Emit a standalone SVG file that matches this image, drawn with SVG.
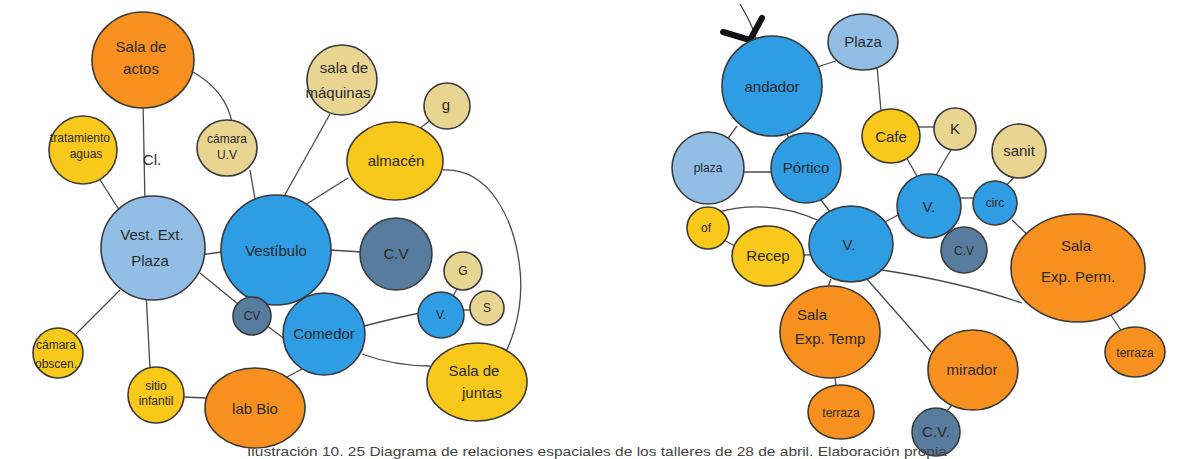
<svg xmlns="http://www.w3.org/2000/svg" width="1182" height="459" viewBox="0 0 1182 459">
<style>
.n{stroke:#3a3a3a;stroke-width:1.6}
.or{fill:#F7901E}
.ye{fill:#F8C81A}
.py{fill:#E9D592}
.lb{fill:#92BEE6}
.bl{fill:#2E9DE3}
.dk{fill:#577C9D}
.t{font-family:"Liberation Sans","DejaVu Sans",sans-serif;fill:#2a2a2a;text-anchor:middle;font-size:15px}
.s{font-size:12px}
.c path,.c line{stroke:#4a4a4a;stroke-width:1.3;fill:none}
</style>
<rect width="1182" height="459" fill="#ffffff"/>
<g class="c" id="connectors">
<line x1="143" y1="100" x2="145" y2="205"/>
<path d="M193 72 Q225 90 232 122"/>
<line x1="97" y1="175" x2="123" y2="216"/>
<line x1="250" y1="170" x2="256" y2="205"/>
<line x1="330" y1="114" x2="282" y2="200"/>
<line x1="348" y1="178" x2="305" y2="205"/>
<line x1="433" y1="118" x2="414" y2="133"/>
<path d="M443 170 C490 168 515 220 520 270 C525 320 505 355 496 372"/>
<line x1="178" y1="258" x2="222" y2="252"/>
<line x1="330" y1="250" x2="362" y2="252"/>
<line x1="200" y1="273" x2="238" y2="304"/>
<line x1="266" y1="325" x2="286" y2="340"/>
<line x1="296" y1="292" x2="317" y2="317"/>
<path d="M364 326 Q395 318 420 313"/>
<line x1="462" y1="310" x2="471" y2="310"/>
<line x1="453" y1="296" x2="457" y2="289"/>
<path d="M362 354 Q395 366 430 366"/>
<line x1="302" y1="369" x2="285" y2="378"/>
<line x1="183" y1="397" x2="207" y2="398"/>
<line x1="146" y1="292" x2="150" y2="368"/>
<line x1="120" y1="290" x2="76" y2="334"/>
<line x1="814" y1="68" x2="845" y2="58"/>
<line x1="877" y1="66" x2="881" y2="111"/>
<line x1="737" y1="126" x2="721" y2="148"/>
<line x1="784" y1="128" x2="790" y2="140"/>
<line x1="736" y1="172" x2="775" y2="172"/>
<line x1="820" y1="199" x2="832" y2="214"/>
<line x1="915" y1="127" x2="935" y2="127"/>
<line x1="905" y1="155" x2="918" y2="178"/>
<line x1="952" y1="148" x2="935" y2="177"/>
<line x1="877" y1="226" x2="904" y2="212"/>
<line x1="942" y1="228" x2="954" y2="236"/>
<line x1="955" y1="198" x2="985" y2="198"/>
<line x1="1015" y1="176" x2="1004" y2="188"/>
<line x1="1012" y1="220" x2="1030" y2="237"/>
<path d="M718 212 Q770 198 822 222"/>
<line x1="724" y1="240" x2="745" y2="252"/>
<line x1="800" y1="255" x2="815" y2="255"/>
<line x1="831" y1="279" x2="826" y2="292"/>
<line x1="834" y1="368" x2="837" y2="396"/>
<line x1="866" y1="278" x2="931" y2="352"/>
<path d="M882 270 Q960 282 1022 303"/>
<line x1="1105" y1="306" x2="1124" y2="335"/>
<line x1="952" y1="405" x2="946" y2="412"/>
</g>
<g id="sala-actos"><ellipse class="n or" cx="143" cy="60" rx="51" ry="48"/><text class="t" x="141" y="52">Sala de</text><text class="t" x="141" y="74">actos</text></g>
<g id="tratamiento"><circle class="n ye" cx="83" cy="150" r="34"/><text class="t s" x="80" y="142">tratamiento</text><text class="t s" x="86" y="158">aguas</text></g>
<g id="cl"><text class="t" x="152" y="165" fill="#555">Cl.</text></g>
<g id="camara-uv"><ellipse class="n py" cx="227" cy="148" rx="30" ry="28"/><text class="t s" x="227" y="143">cámara</text><text class="t s" x="227" y="159">U.V</text></g>
<g id="sala-maquinas"><circle class="n py" cx="342" cy="80" r="35"/><text class="t" x="344" y="73">sala de</text><text class="t" x="338" y="98">máquinas</text></g>
<g id="g-node"><circle class="n py" cx="447" cy="106" r="23"/><text class="t" x="446" y="110">g</text></g>
<g id="almacen"><ellipse class="n ye" cx="395" cy="161" rx="48" ry="39"/><text class="t" x="396" y="166">almacén</text></g>
<g id="vest-ext"><circle class="n lb" cx="153" cy="248" r="52"/><text class="t" x="152" y="240">Vest. Ext.</text><text class="t" x="150" y="266">Plaza</text></g>
<g id="vestibulo"><circle class="n bl" cx="276" cy="250" r="55"/><text class="t" x="276" y="256" font-size="17">Vestíbulo</text></g>
<g id="cv1"><circle class="n dk" cx="396" cy="254" r="36"/><text class="t" x="396" y="259">C.V</text></g>
<g id="cv2"><circle class="n dk" cx="252" cy="316" r="19"/><text class="t s" x="252" y="320">CV</text></g>
<g id="comedor"><circle class="n bl" cx="324" cy="334" r="41"/><text class="t" x="324" y="339">Comedor</text></g>
<g id="v-left"><circle class="n bl" cx="441" cy="315" r="23"/><text class="t s" x="441" y="319">V.</text></g>
<g id="g-big"><circle class="n py" cx="463" cy="271" r="19"/><text class="t s" x="463" y="275">G</text></g>
<g id="s-node"><circle class="n py" cx="487" cy="308" r="17"/><text class="t s" x="487" y="312">S</text></g>
<g id="sala-juntas"><ellipse class="n ye" cx="477" cy="382" rx="50" ry="39"/><text class="t" x="474" y="376">Sala de</text><text class="t" x="482" y="398">juntas</text></g>
<g id="lab-bio"><ellipse class="n or" cx="255" cy="408" rx="50" ry="40"/><text class="t" x="255" y="414" font-size="16">lab Bio</text></g>
<g id="sitio"><circle class="n ye" cx="156" cy="395" r="28"/><text class="t s" x="156" y="390">sitio</text><text class="t s" x="156" y="405">infantil</text></g>
<g id="camara-obs"><circle class="n ye" cx="58" cy="353" r="25"/><text class="t s" x="56" y="349">cámara</text><text class="t s" x="56" y="368">obscen.</text></g>
<g id="andador"><path d="M740 4 C746 14 752 24 756 38" stroke="#333" stroke-width="1.2" fill="none"/><path d="M723 32 L750 40 L762 18" stroke="#111" stroke-width="6" fill="none" stroke-linecap="round" stroke-linejoin="round"/><circle class="n bl" cx="772" cy="86" r="50"/><text class="t" x="772" y="92" font-size="18">andador</text></g>
<g id="plaza-top"><ellipse class="n lb" cx="863" cy="42" rx="35" ry="28"/><text class="t" x="863" y="47">Plaza</text></g>
<g id="plaza-left"><circle class="n lb" cx="708" cy="168" r="36"/><text class="t s" x="708" y="172">plaza</text></g>
<g id="portico"><circle class="n bl" cx="806" cy="168" r="35"/><text class="t" x="806" y="173">Pórtico</text></g>
<g id="cafe"><ellipse class="n ye" cx="891" cy="136" rx="29" ry="27"/><text class="t" x="891" y="142" font-size="17">Cafe</text></g>
<g id="k-node"><circle class="n py" cx="955" cy="129" r="21"/><text class="t" x="955" y="134">K</text></g>
<g id="v-right"><circle class="n bl" cx="929" cy="206" r="32"/><text class="t" x="929" y="212" font-size="17">V.</text></g>
<g id="cv-right"><circle class="n dk" cx="964" cy="250" r="23"/><text class="t s" x="964" y="255">C.V</text></g>
<g id="sanit"><circle class="n py" cx="1019" cy="151" r="27"/><text class="t" x="1019" y="156">sanit</text></g>
<g id="circ"><circle class="n bl" cx="995" cy="203" r="22"/><text class="t s" x="995" y="207">circ</text></g>
<g id="sala-perm"><ellipse class="n or" cx="1078" cy="268" rx="67" ry="54"/><text class="t" x="1076" y="251" font-size="16">Sala</text><text class="t" x="1078" y="282" font-size="16">Exp. Perm.</text></g>
<g id="terraza-r"><ellipse class="n or" cx="1135" cy="352" rx="30" ry="25"/><text class="t s" x="1135" y="357">terraza</text></g>
<g id="mirador"><ellipse class="n or" cx="973" cy="370" rx="45" ry="40"/><text class="t" x="972" y="375">mirador</text></g>
<g id="cv-bottom"><circle class="n dk" cx="936" cy="432" r="24"/><text class="t" x="936" y="437">C.V.</text></g>
<g id="v-center"><ellipse class="n bl" cx="851" cy="244" rx="42" ry="38"/><text class="t" x="849" y="250" font-size="17">V.</text></g>
<g id="of"><circle class="n ye" cx="708" cy="228" r="21"/><text class="t s" x="706" y="232">of</text></g>
<g id="recep"><ellipse class="n ye" cx="768" cy="256" rx="36" ry="30"/><text class="t" x="768" y="261">Recep</text></g>
<g id="sala-temp"><ellipse class="n or" cx="830" cy="332" rx="50" ry="46"/><text class="t" x="812" y="320">Sala</text><text class="t" x="830" y="344">Exp. Temp</text></g>
<g id="terraza-b"><ellipse class="n or" cx="841" cy="412" rx="33" ry="27"/><text class="t s" x="841" y="417">terraza</text></g>
<text x="597" y="456" font-family="Liberation Sans, sans-serif" font-size="13" fill="#444" text-anchor="middle" textLength="700" lengthAdjust="spacingAndGlyphs">Ilustración 10. 25 Diagrama de relaciones espaciales de los talleres de 28 de abril. Elaboración propia</text>
</svg>
